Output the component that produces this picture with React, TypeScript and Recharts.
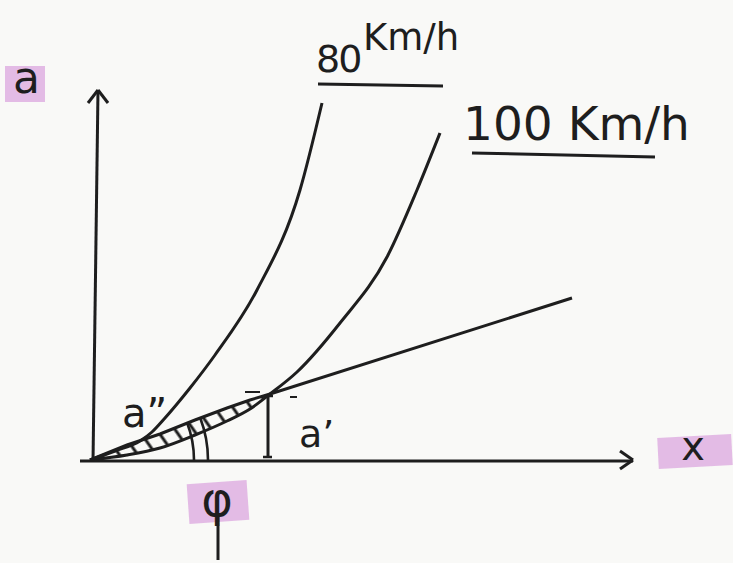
import React from 'react';
import {
  ComposedChart,
  Line,
  Area,
  XAxis,
  YAxis,
  ReferenceLine,
  ReferenceDot,
  Customized,
} from 'recharts';

// sketch units: x measured right of the origin, y measured above it
const curve80 = [
  { x: 0, y: 0 },
  { x: 25, y: 9 },
  { x: 50, y: 19 },
  { x: 62, y: 28 },
  { x: 75, y: 42 },
  { x: 87, y: 56 },
  { x: 100, y: 72 },
  { x: 125, y: 105 },
  { x: 167, y: 170 },
  { x: 210, y: 270 },
  { x: 232, y: 357 },
];

const curve100 = [
  { x: 0, y: 0 },
  { x: 37, y: 5 },
  { x: 70, y: 12 },
  { x: 105, y: 25 },
  { x: 137, y: 39 },
  { x: 160, y: 51 },
  { x: 180, y: 66 },
  { x: 207, y: 88 },
  { x: 250, y: 137 },
  { x: 297, y: 203 },
  { x: 327, y: 270 },
  { x: 350, y: 327 },
];

// the chord from the origin through the meeting point
const tangent = [
  { x: 0, y: 0 },
  { x: 37, y: 15 },
  { x: 70, y: 26 },
  { x: 105, y: 40 },
  { x: 137, y: 52 },
  { x: 160, y: 60 },
  { x: 180, y: 66 },
  { x: 482, y: 162 },
];

// hatched strip between the chord and the 100 km/h curve, up to where they meet
const band = tangent
  .filter(p => p.x <= 180)
  .map(p => {
    const low = curve100.find(c => c.x === p.x);
    return { x: p.x, range: [low ? low.y : p.y, p.y] };
  });

const xAxisEnds = [{ x: -10, y: -1 }, { x: 543, y: -1 }];
const yAxisEnds = [{ x: 3, y: -2 }, { x: 8, y: 370 }];
const bracketEnds = [{ x: 178, y: 3 }, { x: 178, y: 64 }];

const ink = '#1e1e1e';
const pink = '#dfb0e2';
const font = '"DejaVu Sans", sans-serif';

const Angle = (props: any) => {
  const { cx, cy } = props;
  const arc = (r: number) => {
    const a = (21 * Math.PI) / 180;
    return `M ${cx + r} ${cy} A ${r} ${r} 0 0 0 ${cx + r * Math.cos(a)} ${cy - r * Math.sin(a)}`;
  };
  return (
    <g fill="none" stroke={ink} strokeWidth={2.6}>
      <path d={arc(104)} />
      <path d={arc(118)} />
    </g>
  );
};

const Labels = () => (
  <g fontFamily={font} fill={ink}>
    {/* highlighted axis names */}
    <rect x={5} y={66} width={40} height={36} fill={pink} opacity={0.85} />
    <text x={13} y={93} fontSize={44}>a</text>
    <rect x={658} y={436} width={74} height={31} fill={pink} opacity={0.85} transform="rotate(-3 695 452)" />
    <text x={693} y={460} fontSize={40} textAnchor="middle">x</text>
    <rect x={188} y={482} width={60} height={40} fill={pink} opacity={0.85} transform="rotate(-4 218 502)" />
    <text x={217} y={516} fontSize={48} textAnchor="middle">φ</text>
    <line x1={218} y1={515} x2={218} y2={560} stroke={ink} strokeWidth={3} />

    {/* speed captions */}
    <text x={316} y={72} fontSize={38} letterSpacing={-2}>80</text>
    <text x={363} y={50} fontSize={37}>Km/h</text>
    <line x1={318} y1={84} x2={443} y2={86} stroke={ink} strokeWidth={3} />
    <text x={463} y={140} fontSize={47}>100 Km/h</text>
    <line x1={472} y1={153} x2={655} y2={157} stroke={ink} strokeWidth={3} />

    {/* point labels */}
    <text x={122} y={427} fontSize={40}>a”</text>
    <text x={299} y={447} fontSize={38}>a’</text>
  </g>
);

export default function App() {
  const seg = (pts: { x: number; y: number }[]) => [pts[0], pts[1]] as any;
  return (
    <div style={{ position: 'absolute', left: 0, top: 0, width: 733, height: 563, background: '#f9f9f7' }}>
      <ComposedChart width={733} height={563} margin={{ top: 60, right: 63, bottom: 93, left: 70 }}>
        <defs>
          <pattern id="hatch" width={15} height={15} patternUnits="userSpaceOnUse" patternTransform="rotate(-35)">
            <line x1={2} y1={0} x2={2} y2={15} stroke={ink} strokeWidth={3} />
          </pattern>
        </defs>
        <XAxis type="number" dataKey="x" domain={[-20, 580]} hide allowDataOverflow />
        <YAxis type="number" domain={[-10, 400]} hide allowDataOverflow />

        <Area data={band} dataKey="range" type="monotone" fill="url(#hatch)" fillOpacity={1} stroke="none" isAnimationActive={false} />

        {/* axes with arrow heads */}
        <ReferenceLine segment={seg(xAxisEnds)} stroke={ink} strokeWidth={3} ifOverflow="visible" />
        <ReferenceLine segment={[{ x: 530, y: 9 }, { x: 543, y: 0 }]} stroke={ink} strokeWidth={3} ifOverflow="visible" />
        <ReferenceLine segment={[{ x: 530, y: -9 }, { x: 543, y: 0 }]} stroke={ink} strokeWidth={3} ifOverflow="visible" />
        <ReferenceLine segment={seg(yAxisEnds)} stroke={ink} strokeWidth={3} ifOverflow="visible" />
        <ReferenceLine segment={[{ x: -2, y: 357 }, { x: 8, y: 370 }]} stroke={ink} strokeWidth={3} ifOverflow="visible" />
        <ReferenceLine segment={[{ x: 18, y: 357 }, { x: 8, y: 370 }]} stroke={ink} strokeWidth={3} ifOverflow="visible" />

        <Line data={tangent} dataKey="y" type="linear" stroke={ink} strokeWidth={3} dot={false} activeDot={false} isAnimationActive={false} />
        <Line data={curve100} dataKey="y" type="monotone" stroke={ink} strokeWidth={3} dot={false} activeDot={false} isAnimationActive={false} />
        <Line data={curve80} dataKey="y" type="monotone" stroke={ink} strokeWidth={3} dot={false} activeDot={false} isAnimationActive={false} />

        {/* the a' gap and the angle at the origin */}
        <ReferenceLine segment={seg(bracketEnds)} stroke={ink} strokeWidth={3} ifOverflow="visible" />
        <ReferenceLine segment={[{ x: 174, y: 64 }, { x: 183, y: 64 }]} stroke={ink} strokeWidth={2.5} ifOverflow="visible" />
        <ReferenceLine segment={[{ x: 173, y: 3 }, { x: 182, y: 3 }]} stroke={ink} strokeWidth={2.5} ifOverflow="visible" />
        <ReferenceLine segment={[{ x: 155, y: 68 }, { x: 170, y: 68 }]} stroke={ink} strokeWidth={2} ifOverflow="visible" />
        <ReferenceLine segment={[{ x: 200, y: 63 }, { x: 207, y: 63 }]} stroke={ink} strokeWidth={2} ifOverflow="visible" />
        <ReferenceDot x={0} y={0} r={0} shape={<Angle />} ifOverflow="visible" />

        <Customized component={Labels} />
      </ComposedChart>
    </div>
  );
}
